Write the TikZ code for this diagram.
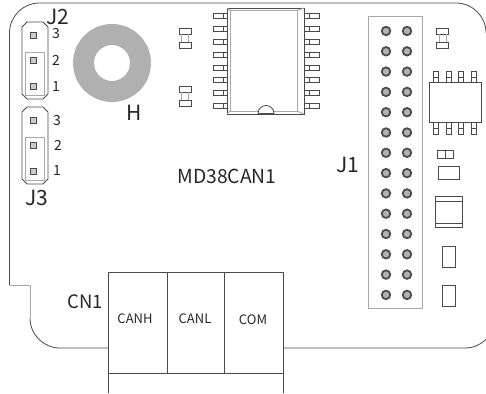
\documentclass[tikz,border=0pt]{standalone}
\usepackage{fontspec}
\setmainfont{Noto Sans CJK SC}
\definecolor{linegray}{HTML}{4A4A4A}
\definecolor{palegray}{HTML}{A8A8A8}
\definecolor{ringgray}{HTML}{B0B0B0}
\tikzset{
  edge/.style={draw=linegray, line width=0.8pt},
  pale/.style={draw=palegray, line width=0.9pt},
  biglabel/.style={text=black!85, font=\fontsize{21}{23}\selectfont, inner sep=0pt},
  midlabel/.style={text=black!85, font=\fontsize{18.5}{20}\selectfont, inner sep=0pt},
  numlabel/.style={text=black!85, font=\fontsize{14}{16}\selectfont, inner sep=0pt},
  termlabel/.style={text=black!85, font=\fontsize{13}{15}\selectfont, inner sep=0pt},
  sqpad/.style={draw=linegray, line width=0.9pt, fill=black!20, minimum size=6pt, inner sep=0pt},
  roundpad/.style={circle, draw=black!70, line width=1.8pt, fill=black!30, minimum size=8.5pt, inner sep=0pt}
}
\begin{document}
\begin{tikzpicture}[x=1pt,y=-1pt]
\useasboundingbox (0,0) rectangle (486,393);

% board outline
\begin{scope}
\clip (0,0) rectangle (486,393);
\coordinate (TL) at (9.5,33);
\coordinate (TR) at (456,3);
\coordinate (NA) at (9.5,285);
\coordinate (NB) at (30,285);
\coordinate (NC) at (30,318);
\coordinate (CA) at (108,348);
\coordinate (CB) at (283,348);
\coordinate (BR) at (465,348);
\draw [edge] (NC) arc (180:90:30) -- (CA);
\draw [edge] (NA)--(TL) arc (180:270:30) -- (TR) arc (270:360:30);
\draw [pale] (NA)--(NB)--(NC);
\draw [edge] (CB)--(BR) arc (90:-30:30);
\end{scope}

% mounting hole
\fill [ringgray, even odd rule] (112,63) circle (39) (112,63) circle (18);
\node [biglabel] (H) at (134,113) {H};

% jumpers J2 and J3
\foreach \name/\y in {J2/0,J3/85}{
  \draw [edge] (27,22+\y)--(43,22+\y)--(48,27+\y)--(48,94+\y)--(43,99+\y)--(27,99+\y)--(22,94+\y)--(22,27+\y)--cycle;
  \draw [pale] (25,52+\y) rectangle (44,95+\y);
  \node [sqpad] (\name a) at (33,35+\y) {};
  \node [sqpad] (\name b) at (33,60+\y) {};
  \node [sqpad] (\name c) at (33,86+\y) {};
}
\node [biglabel] (J2) at (58,17) {J2};
\node [biglabel] (J3) at (37,198) {J3};
\node [numlabel] (Jtwothree) at (56,34) {3};
\node [numlabel] (Jtwotwo) at (56,60) {2};
\node [numlabel] (Jtwoone) at (56,87) {1};
\node [numlabel] (Jthreethree) at (57,121) {3};
\node [numlabel] (Jthreetwo) at (58,145) {2};
\node [numlabel] (Jthreeone) at (57,171) {1};

% small parts
\foreach \x/\y in {185/28,185/86,442.5/28}{
  \draw [edge] (\x-6,\y) rectangle (\x+6,\y+6);
  \draw [edge] (\x-6,\y+14) rectangle (\x+6,\y+20);
  \draw [pale] (\x-3.5,\y+6) -- (\x-3.5,\y+14) (\x+3.5,\y+6) -- (\x+3.5,\y+14);
}

% big chip
\foreach \y in {16,29,42,55,68,80,93,106}{
  \draw [edge] (213,\y-2.5) rectangle (227,\y+2.5);
  \draw [edge] (223,\y-2.5)--(223,\y+2.5);
  \draw [edge] (304,\y-2.5) rectangle (319,\y+2.5);
  \draw [edge] (309,\y-2.5)--(309,\y+2.5);
}
\draw [edge, fill=white] (227,8) rectangle (304,114);
\draw [pale] (230,10.5) rectangle (297,111);
\draw [pale] (227,8)--(230,10.5) (304,8)--(297,10.5) (227,114)--(230,111) (304,114)--(297,111);
\draw [edge, fill=white] (258,113.5) arc (180:360:8) -- cycle;

% header J1
\draw [pale] (368,16) rectangle (422,308);
\foreach \i in {0,...,13}{
  \node [roundpad] (Pa\i) at (386,31+20.3*\i) {};
  \node [roundpad] (Pb\i) at (407,31+20.3*\i) {};
}
\node [biglabel] (J1) at (348,165) {J1};

% small chip
\foreach \x in {436,449,461,474}{
  \draw [edge] (\x-2.5,71) rectangle (\x+2.5,82);
  \draw [edge] (\x-2.5,77)--(\x+2.5,77);
  \draw [edge] (\x-2.5,122) rectangle (\x+2.5,134);
  \draw [edge] (\x-2.5,128)--(\x+2.5,128);
}
\draw [edge, fill=white] (429,82) rectangle (481,122);

% parts on the right
\draw [edge] (437,150) rectangle (445,158);
\draw [edge] (445,150) rectangle (453,158);
\draw [edge] (438,166) rectangle (459,179);
\draw [edge] (435,196) rectangle (462,227);
\draw [edge] (435,201)--(462,201) (435,223)--(462,223);
\draw [edge] (442,246) rectangle (455,267);
\draw [edge] (442,285) rectangle (455,306);

\node [midlabel, font=\fontsize{19.3}{21}\selectfont] (MD) at (227,176) {MD38CAN1};

% connector
\coordinate (CNa) at (108,272);
\coordinate (CNb) at (283,272);
\coordinate (CNc) at (283,393);
\coordinate (CNd) at (108,393);
\draw [edge] (CNd)--(CNa)--(CNb)--(CNc);
\draw [edge] (108,373)--(283,373);
\draw [edge] (167,272)--(167,373);
\draw [edge] (224.5,272)--(224.5,373);
\node [midlabel] (CN) at (85,302) {CN1};
\node [termlabel] (CANH) at (135,318.5) {CANH};
\node [termlabel] (CANL) at (195,319) {CANL};
\node [termlabel] (COM) at (253,320) {COM};
\end{tikzpicture}
\end{document}
